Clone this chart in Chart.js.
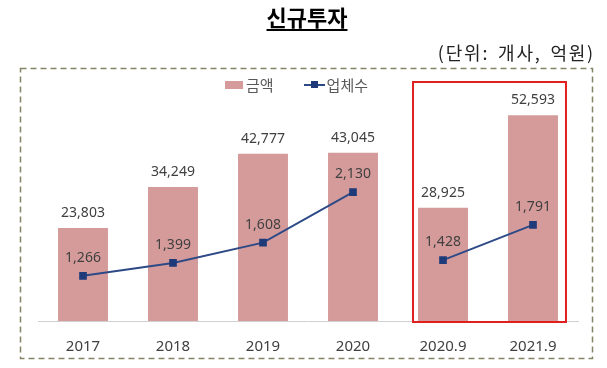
<!DOCTYPE html>
<html><head><meta charset="utf-8">
<script src="https://cdn.jsdelivr.net/npm/chart.js@4/dist/chart.umd.min.js"></script>
<style>
html,body{margin:0;padding:0;background:#fff;}
#wrap{position:relative;width:607px;height:368px;overflow:hidden;font-family:'Noto Sans CJK KR','Noto Sans',sans-serif;}
#title{position:absolute;left:0;width:614px;top:0px;text-align:center;font-size:22px;font-weight:bold;color:#000;}
#title span{text-decoration:underline;text-underline-offset:3px;text-decoration-thickness:2px;}
#unit{position:absolute;right:12px;top:39px;font-size:18px;color:#222;letter-spacing:1.8px;word-spacing:3px;}
#legend{position:absolute;top:74px;left:225px;font-size:15px;color:#595959;display:flex;align-items:center;}
.sw{display:inline-block;width:18px;height:8px;background:#D59B9B;margin-right:3px;}
.ln{display:inline-block;position:relative;width:21px;height:2px;background:#2E4A86;margin-left:30px;margin-right:2px;}
.ln i{position:absolute;left:7px;top:-3px;width:7px;height:7px;background:#1F3A78;}
canvas{position:absolute;left:0;top:0;}
</style></head>
<body>
<div id="wrap">
<canvas id="c" width="607" height="368"></canvas>
<div id="title"><span>신규투자</span></div>
<div id="unit">(단위: 개사, 억원)</div>
<div id="legend"><span class="sw"></span><span>금액</span><span class="ln"><i></i></span><span>업체수</span></div>
</div>
<script>
const categories = ['2017','2018','2019','2020','2020.9','2021.9'];
const amountValues = [23803, 34249, 42777, 43045, 28925, 52593];
const companyValues = [1266, 1399, 1608, 2130, 1428, 1791];
const breakAfterIndex = 3;

const fmt = v => v.toLocaleString('en-US');
const NUMFONT = "'Noto Sans','Noto Sans CJK KR',sans-serif";

const decor = {
  id:'decor',
  beforeDraw(chart){
    const ctx = chart.ctx;
    ctx.save();
    ctx.strokeStyle = '#858566';
    ctx.lineWidth = 1.5;
    ctx.setLineDash([6,4]);
    ctx.strokeRect(20.5, 68.5, 572, 290);
    ctx.restore();
  },
  afterDraw(chart){
    const ctx = chart.ctx;
    const barMeta = chart.getDatasetMeta(0);
    const lineMeta = chart.getDatasetMeta(1);
    ctx.save();
    ctx.font = '14px ' + NUMFONT;
    ctx.fillStyle = '#404040';
    ctx.textAlign = 'center';
    ctx.textBaseline = 'middle';
    barMeta.data.forEach((b,i)=>{
      ctx.fillText(fmt(amountValues[i]), b.x, b.y - 15);
    });
    lineMeta.data.forEach((p,i)=>{
      ctx.fillText(fmt(companyValues[i]), p.x, p.y - 18);
    });
    const b4 = barMeta.data[4], b5 = barMeta.data[5];
    const hw = b4.width/2;
    const left = b4.x - hw - 5, right = b5.x + hw + 8;
    ctx.strokeStyle = '#E0201E';
    ctx.lineWidth = 2;
    ctx.strokeRect(left, 82, right-left, chart.chartArea.bottom + 1 - 82);
    ctx.restore();
  }
};

new Chart(document.getElementById('c'), {
  data:{
    labels: categories,
    datasets:[
      {type:'bar', label:'금액', data: amountValues, backgroundColor:'#D59B9B', yAxisID:'y', order:2,
       barPercentage:0.555, categoryPercentage:1},
      {type:'line', label:'업체수', data: companyValues, yAxisID:'y1', order:1,
       borderColor:'#2E4A86', borderWidth:2, pointStyle:'rect', pointRadius:4,
       pointBackgroundColor:'#1F3A78', pointBorderColor:'#1F3A78', tension:0,
       segment:{borderColor: c => c.p0DataIndex === breakAfterIndex ? 'rgba(0,0,0,0)' : '#2E4A86'}}
    ]
  },
  options:{
    responsive:false, animation:false,
    layout:{padding:{left:38, right:29, top:100, bottom:0}},
    plugins:{legend:{display:false}, tooltip:{enabled:false}, title:{display:false}},
    scales:{
      x:{
        grid:{display:false, drawTicks:false},
        border:{display:true, color:'#D0D0D0', width:1},
        ticks:{font:{family:NUMFONT, size:15}, color:'#404040', padding:17},
        afterFit(s){ s.height = 47; }
      },
      y:{display:false, min:0, max:56500},
      y1:{display:false, min:800, max:3080}
    }
  },
  plugins:[decor]
});
</script>
</body></html>
